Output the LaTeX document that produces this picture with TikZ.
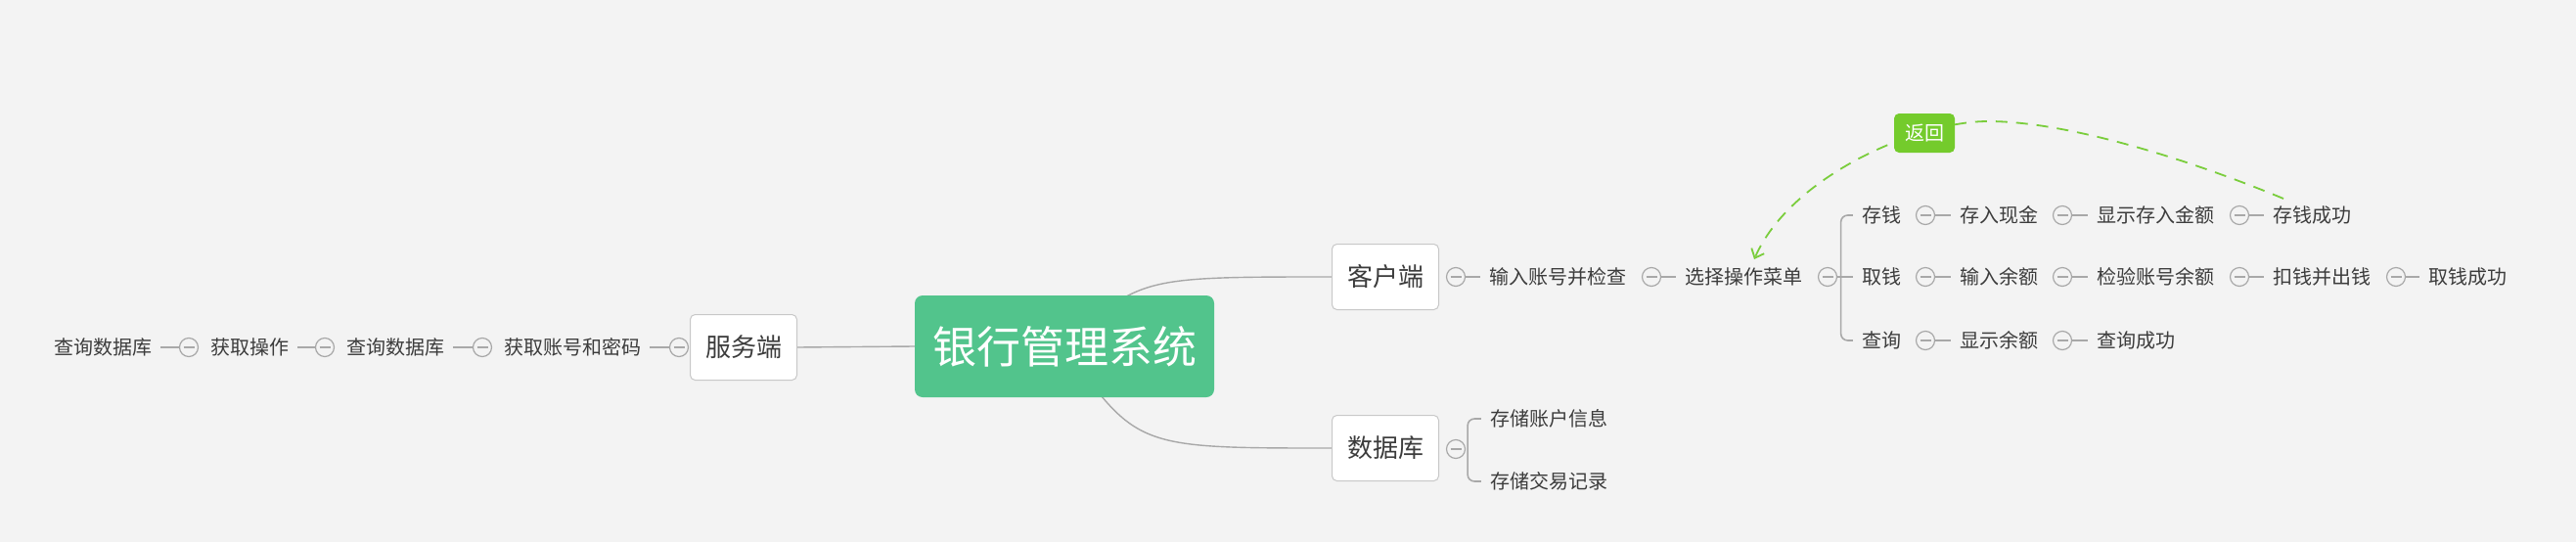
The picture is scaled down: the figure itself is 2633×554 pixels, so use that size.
\documentclass[tikz,border=0pt]{standalone}
\usepackage{fontspec}
\setmainfont{Noto Sans CJK SC}
\usetikzlibrary{arrows.meta}
\definecolor{bgc}{HTML}{F3F3F3}
\definecolor{txt}{HTML}{3C3C3C}
\definecolor{lnc}{HTML}{A8A8A8}
\definecolor{rootg}{HTML}{52C48C}
\definecolor{retg}{HTML}{74CB2C}
\definecolor{arcg}{HTML}{7ACD3C}
\definecolor{boxb}{HTML}{C8C8C8}
\pgfdeclarelayer{bgl}
\pgfdeclarelayer{edges}
\pgfsetlayers{bgl,edges,main}
\begin{document}
\begin{tikzpicture}[x=1pt,y=-1pt,
  topic/.style={inner xsep=9pt, inner ysep=4pt, text=txt, font=\fontsize{20}{24}\selectfont},
  mainbox/.style={draw=boxb, fill=white, rounded corners=5pt, line width=1pt, minimum width=109pt, minimum height=67pt, text=txt, font=\fontsize{26}{30}\selectfont, inner sep=0pt},
  rootbox/.style={fill=rootg, rounded corners=8pt, minimum width=306pt, minimum height=104pt, text=white, font=\fontsize{45}{50}\selectfont, inner sep=0pt},
  fold/.style={circle, draw=lnc, fill=bgc, line width=1.2pt, minimum size=19pt, inner sep=0pt, path picture={\draw[lnc, line width=1.2pt] ([xshift=-5.5pt]path picture bounding box.center) -- ([xshift=5.5pt]path picture bounding box.center);}},
  conn/.style={draw=lnc, line width=1.6pt},
  rootconn/.style={draw=lnc, line width=1.4pt},
  retbox/.style={fill=retg, rounded corners=5pt, minimum width=62pt, minimum height=40pt, text=white, font=\fontsize{20}{24}\selectfont, inner sep=0pt},
  retarc/.style={draw=arcg, line width=1.8pt, dash pattern=on 12pt off 9pt, -{Straight Barb[length=8pt,width=14pt]}}
]
\begin{pgfonlayer}{bgl}
\fill[bgc] (0,0) rectangle (2633,554);
\end{pgfonlayer}
\useasboundingbox (0,0) rectangle (2633,554);

% main nodes
\node[rootbox] (root) at (1088,354) {银行管理系统};
\node[mainbox] (fwd) at (760,355) {服务端};
\node[mainbox] (khd) at (1416,283) {客户端};
\node[mainbox] (sjk) at (1416,458) {数据库};

% left branch
\node[fold] (fl1) at (694,355) {};
\node[topic] (l1) at (585,355) {获取账号和密码};
\node[fold] (fl2) at (493,355) {};
\node[topic] (l2) at (404,355) {查询数据库};
\node[fold] (fl3) at (332,355) {};
\node[topic] (l3) at (255,355) {获取操作};
\node[fold] (fl4) at (193,355) {};
\node[topic] (l4) at (105,355) {查询数据库};

% client branch
\node[fold] (fk0) at (1488,283) {};
\node[topic] (k1) at (1592,283) {输入账号并检查};
\node[fold] (fk1) at (1688,283) {};
\node[topic] (k2) at (1782,283) {选择操作菜单};
\node[fold] (fk2) at (1868,283) {};

\node[topic] (a0) at (1923,220) {存钱};
\node[fold] (fa0) at (1968,220) {};
\node[topic] (a1) at (2043,220) {存入现金};
\node[fold] (fa1) at (2108,220) {};
\node[topic] (a2) at (2203,220) {显示存入金额};
\node[fold] (fa2) at (2289,220) {};
\node[topic] (a3) at (2363,220) {存钱成功};

\node[topic] (b0) at (1923,283) {取钱};
\node[fold] (fb0) at (1968,283) {};
\node[topic] (b1) at (2043,283) {输入余额};
\node[fold] (fb1) at (2108,283) {};
\node[topic] (b2) at (2203,283) {检验账号余额};
\node[fold] (fb2) at (2289,283) {};
\node[topic] (b3) at (2373,283) {扣钱并出钱};
\node[fold] (fb3) at (2449,283) {};
\node[topic] (b4) at (2522,283) {取钱成功};

\node[topic] (c0) at (1923,348) {查询};
\node[fold] (fc0) at (1968,348) {};
\node[topic] (c1) at (2043,348) {显示余额};
\node[fold] (fc1) at (2108,348) {};
\node[topic] (c2) at (2183,348) {查询成功};

% database branch
\node[fold] (fs0) at (1488,459) {};
\node[topic] (s1) at (1583,428) {存储账户信息};
\node[topic] (s2) at (1583,492) {存储交易记录};

% return label
\node[retbox] (ret) at (1967,136) {返回};
\coordinate (arcS) at (2334,203);
\coordinate (arcT) at (2032,124);
\coordinate (arcE) at (1793,265);

\begin{pgfonlayer}{edges}
\draw[rootconn] (fwd.east) -- (root.west);
\draw[rootconn] (root.center) .. controls (1165,283) .. (khd.west);
\draw[rootconn] (root.center) .. controls (1162,458) .. (sjk.west);

\draw[conn] (fl1) -- (l1);
\draw[conn] (fl2) -- (l2);
\draw[conn] (fl3) -- (l3);
\draw[conn] (fl4) -- (l4);

\draw[conn] (fk0) -- (k1);
\draw[conn] (fk1) -- (k2);
\draw[conn, rounded corners=7pt] (a0.west) -| ([xshift=3.5pt]fk2.east) |- (c0.west);
\draw[conn] (fk2) -- (b0);

\draw[conn] (fa0) -- (a1);
\draw[conn] (fa1) -- (a2);
\draw[conn] (fa2) -- (a3);
\draw[conn] (fb0) -- (b1);
\draw[conn] (fb1) -- (b2);
\draw[conn] (fb2) -- (b3);
\draw[conn] (fb3) -- (b4);
\draw[conn] (fc0) -- (c1);
\draw[conn] (fc1) -- (c2);

\draw[conn, rounded corners=7pt] (s1.west) -| ([xshift=2pt]fs0.east) |- (s2.west);

\draw[retarc] (arcS) .. controls (2230,160) and (2110,124) .. (arcT) .. controls (1960,124) and (1830,180) .. (arcE);
\end{pgfonlayer}
\end{tikzpicture}
\end{document}
